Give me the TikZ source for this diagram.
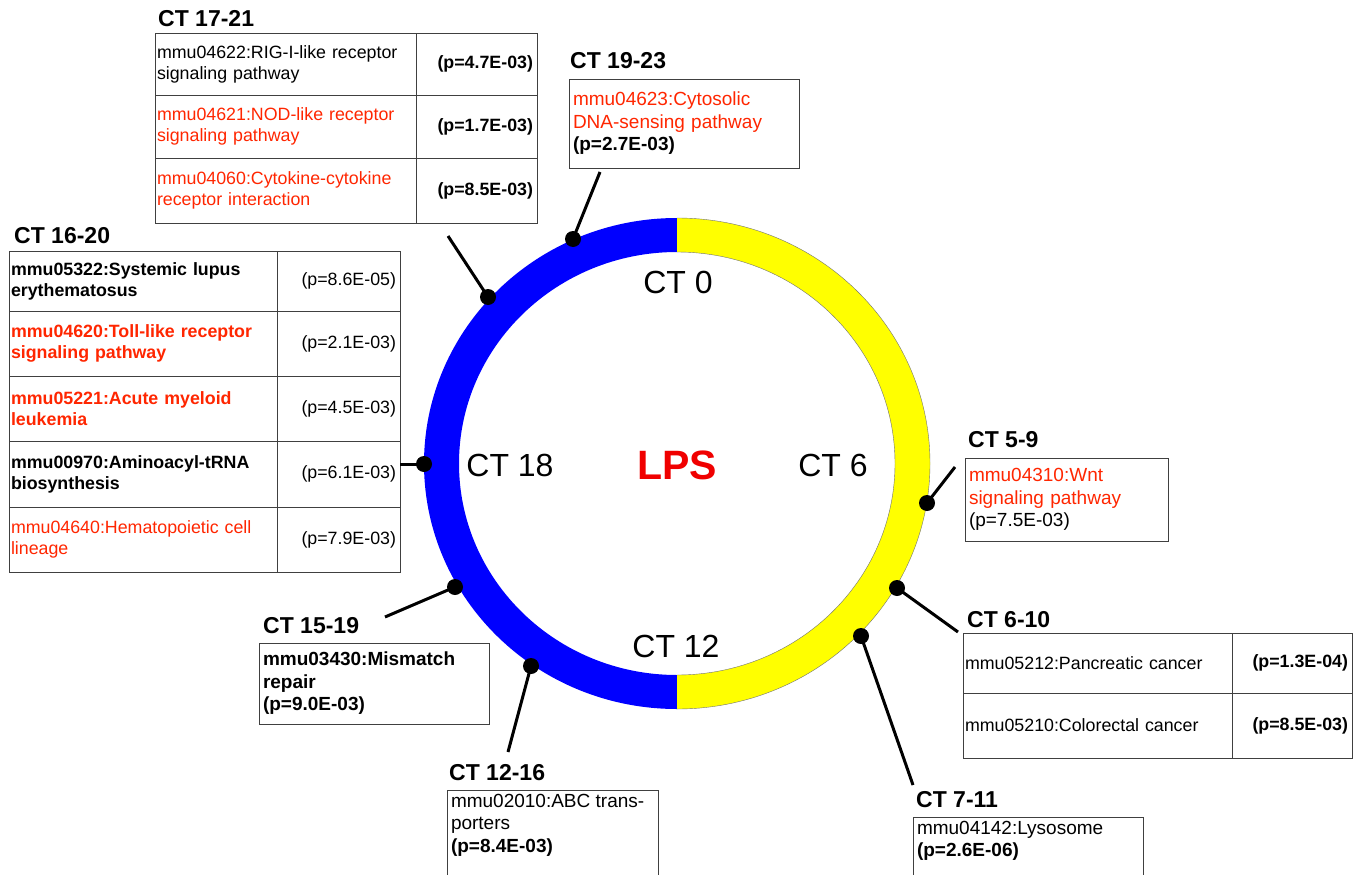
\documentclass[tikz,border=0pt]{standalone}
\usepackage{fontspec}
\setmainfont{Liberation Sans}
\definecolor{tred}{RGB}{255,38,0}
\definecolor{lpsred}{RGB}{240,0,0}
\definecolor{ringblue}{RGB}{0,0,255}
\definecolor{ringyellow}{RGB}{255,255,0}
\newcommand\tabfont{\fontsize{17.8}{21}\selectfont}
\newcommand\boxfont{\fontsize{19}{22.5}\selectfont}
\begin{document}
\begin{tikzpicture}[x=1pt,y=-1pt,
  cell/.style={draw=black!75, line width=0.9pt, anchor=north west, inner sep=0pt, outer sep=0pt, font=\tabfont},
  pbox/.style={draw=black!75, line width=0.9pt, anchor=north west, inner sep=0pt, outer sep=0pt, font=\boxfont, align=left},
  head/.style={anchor=base west, inner sep=0pt, font=\fontsize{23}{27}\selectfont\bfseries},
  ringlbl/.style={inner sep=0pt, font=\fontsize{32}{36}\selectfont},
  dot/.style={circle, fill=black, minimum size=16pt, inner sep=0pt},
  conn/.style={line width=3pt, black}
]
\clip (0,0) rectangle (1360,875);
\fill[white] (0,0) rectangle (1360,875);

% ring
\coordinate (C) at (677,463.5);
\begin{scope}
  \clip (0,0) rectangle (677,875);
  \fill[ringblue, even odd rule] (C) ellipse [x radius=253pt, y radius=245.5pt] (C) ellipse [x radius=218pt, y radius=211.5pt];
\end{scope}
\begin{scope}
  \clip (677,0) rectangle (1360,875);
  \filldraw[fill=ringyellow, draw=black!55, line width=0.4pt, even odd rule] (C) ellipse [x radius=253pt, y radius=245.5pt] (C) ellipse [x radius=218pt, y radius=211.5pt];
\end{scope}

\node[ringlbl] (ct0) at (678,282) {CT 0};
\node[ringlbl] (ct6) at (833,465) {CT 6};
\node[ringlbl] (ct12) at (676,646) {CT 12};
\node[ringlbl] (ct18) at (510,465) {CT 18};
\node[inner sep=0pt, font=\fontsize{41}{45}\selectfont\bfseries, text=lpsred] (lps) at (677,465) {LPS};

% CT 17-21 table
\node[head] (h1721) at (158,27) {CT 17-21};
\node[cell, minimum width=261pt, minimum height=62pt, text width=257pt, align=left] (a1) at (155,33) {mmu04622:RIG-I-like receptor\\signaling pathway};
\node[cell, minimum width=121pt, minimum height=62pt, text width=113pt, align=right, font=\tabfont\bfseries] (b1) at (416,33) {(p=4.7E-03)};
\node[cell, minimum width=261pt, minimum height=63pt, text width=257pt, align=left, text=tred] (a2) at (155,95) {mmu04621:NOD-like receptor\\signaling pathway};
\node[cell, minimum width=121pt, minimum height=63pt, text width=113pt, align=right, font=\tabfont\bfseries] (b2) at (416,95) {(p=1.7E-03)};
\node[cell, minimum width=261pt, minimum height=65pt, text width=257pt, align=left, text=tred] (a3) at (155,158) {mmu04060:Cytokine-cytokine\\receptor interaction};
\node[cell, minimum width=121pt, minimum height=65pt, text width=113pt, align=right, font=\tabfont\bfseries] (b3) at (416,158) {(p=8.5E-03)};

% CT 19-23 box
\node[head] (h1923) at (570,69) {CT 19-23};
\node[pbox, minimum width=230pt, minimum height=89pt, text width=222pt] (bx1923) at (569,79) {\textcolor{tred}{mmu04623:Cytosolic}\\\textcolor{tred}{DNA-sensing pathway}\\\textbf{(p=2.7E-03)}};

% CT 16-20 table
\node[head] (h1620) at (14,243) {CT 16-20};
\node[cell, minimum width=268pt, minimum height=60pt, text width=264pt, align=left, font=\tabfont\bfseries] (c1) at (9,251) {mmu05322:Systemic lupus\\erythematosus};
\node[cell, minimum width=123pt, minimum height=60pt, text width=115pt, align=right] (e1) at (277,251) {(p=8.6E-05)};
\node[cell, minimum width=268pt, minimum height=65pt, text width=264pt, align=left, font=\tabfont\bfseries, text=tred] (c2) at (9,311) {mmu04620:Toll-like receptor\\signaling pathway};
\node[cell, minimum width=123pt, minimum height=65pt, text width=115pt, align=right] (e2) at (277,311) {(p=2.1E-03)};
\node[cell, minimum width=268pt, minimum height=65pt, text width=264pt, align=left, font=\tabfont\bfseries, text=tred] (c3) at (9,376) {mmu05221:Acute myeloid\\leukemia};
\node[cell, minimum width=123pt, minimum height=65pt, text width=115pt, align=right] (e3) at (277,376) {(p=4.5E-03)};
\node[cell, minimum width=268pt, minimum height=66pt, text width=264pt, align=left, font=\tabfont\bfseries] (c4) at (9,441) {mmu00970:Aminoacyl-tRNA\\biosynthesis};
\node[cell, minimum width=123pt, minimum height=66pt, text width=115pt, align=right] (e4) at (277,441) {(p=6.1E-03)};
\node[cell, minimum width=268pt, minimum height=65pt, text width=264pt, align=left, text=tred] (c5) at (9,507) {mmu04640:Hematopoietic cell\\lineage};
\node[cell, minimum width=123pt, minimum height=65pt, text width=115pt, align=right] (e5) at (277,507) {(p=7.9E-03)};

% CT 5-9 box
\node[head] (h59) at (968,447) {CT 5-9};
\node[pbox, minimum width=203pt, minimum height=83pt, text width=195pt] (bx59) at (965,458) {\textcolor{tred}{mmu04310:Wnt}\\\textcolor{tred}{signaling pathway}\\(p=7.5E-03)};

% CT 6-10 table
\node[head] (h610) at (967,627) {CT 6-10};
\node[cell, minimum width=269pt, minimum height=60pt, text width=265pt, align=left] (f1) at (963,633) {mmu05212:Pancreatic cancer};
\node[cell, minimum width=120pt, minimum height=60pt, text width=112pt, align=right, font=\tabfont\bfseries] (g1) at (1232,633) {(p=1.3E-04)};
\node[cell, minimum width=269pt, minimum height=65pt, text width=265pt, align=left] (f2) at (963,693) {mmu05210:Colorectal cancer};
\node[cell, minimum width=120pt, minimum height=65pt, text width=112pt, align=right, font=\tabfont\bfseries] (g2) at (1232,693) {(p=8.5E-03)};

% CT 15-19 box
\node[head] (h1519) at (263,633) {CT 15-19};
\node[pbox, minimum width=230pt, minimum height=81pt, text width=222pt, font=\boxfont\bfseries] (bx1519) at (259,643) {mmu03430:Mismatch\\repair\\(p=9.0E-03)};

% CT 12-16 box (cut by lower edge)
\node[head] (h1216) at (449,780) {CT 12-16};
\node[pbox, inner sep=4pt] (bx1216) at (447,790) {\begin{minipage}[t][92pt][t]{203pt}\boxfont mmu02010:ABC trans-\\porters\\\textbf{(p=8.4E-03)}\end{minipage}};

% CT 7-11 box (cut by lower edge)
\node[head] (h711) at (916,807) {CT 7-11};
\node[pbox, inner sep=4pt] (bx711) at (913,817) {\begin{minipage}[t][65pt][t]{222pt}\boxfont mmu04142:Lysosome\\\textbf{(p=2.6E-06)}\end{minipage}};

% connectors
\coordinate (t1) at (448,236);
\coordinate (t2) at (600,172);
\coordinate (t3) at (400,464);
\coordinate (t4) at (385,617);
\coordinate (t5) at (508,752);
\coordinate (t6) at (913,785);
\coordinate (t7) at (958,632);
\coordinate (t8) at (955,467);

\node[dot] (d1) at (488,297) {};
\node[dot] (d2) at (573,239) {};
\node[dot] (d3) at (424,464) {};
\node[dot] (d4) at (455,587) {};
\node[dot] (d5) at (531,666) {};
\node[dot] (d6) at (861,636) {};
\node[dot] (d7) at (897,588) {};
\node[dot] (d8) at (927,503) {};

\draw[conn] (d1.center) -- (t1);
\draw[conn] (d2.center) -- (t2);
\draw[conn] (d3.center) -- (t3);
\draw[conn] (d4.center) -- (t4);
\draw[conn] (d5.center) -- (t5);
\draw[conn] (d6.center) -- (t6);
\draw[conn] (d7.center) -- (t7);
\draw[conn] (d8.center) -- (t8);
\end{tikzpicture}
\end{document}
